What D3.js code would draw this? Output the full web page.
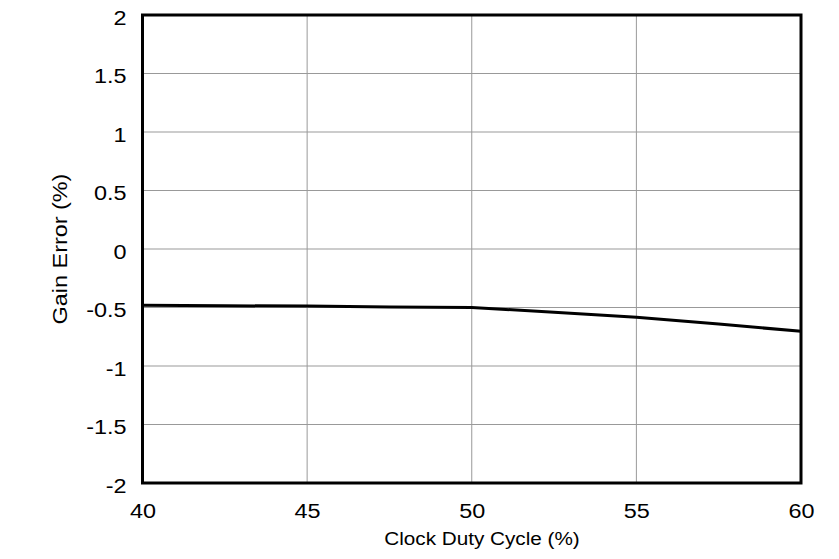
<!DOCTYPE html>
<html><head><meta charset="utf-8">
<script src="https://cdn.jsdelivr.net/npm/d3@7"></script>
<style>body{margin:0;background:#fff;} text{font-family:"Liberation Sans",Arial,sans-serif;}</style>
</head><body>
<svg id="c" width="839" height="559"></svg>
<script>
const dutyCycle = [40, 42.5, 45, 47.5, 50, 52.5, 55, 57.5, 60];
const gainError = [-0.48, -0.485, -0.488, -0.495, -0.50, -0.541, -0.584, -0.641, -0.704];
const xTicks = [40, 45, 50, 55, 60];
const yTicks = [-2, -1.5, -1, -0.5, 0, 0.5, 1, 1.5, 2];
const xTitle = "Clock Duty Cycle (%)";
const yTitle = "Gain Error (%)";

const svg = d3.select("#c");
const L = 142.5, R = 801, T = 15, B = 483;
const x = d3.scaleLinear().domain([40, 60]).range([L, R]);
const y = d3.scaleLinear().domain([-2, 2]).range([B, T]);
const FF = '"Liberation Sans",Arial,sans-serif';

function stretch(sel, f) {
  sel.each(function () {
    const len = this.getComputedTextLength();
    d3.select(this).attr("textLength", len * f).attr("lengthAdjust", "spacingAndGlyphs");
  });
}

// grid
svg.append("g").selectAll("line").data(xTicks.slice(1, -1)).join("line")
  .attr("x1", d => x(d)).attr("x2", d => x(d)).attr("y1", T).attr("y2", B)
  .attr("stroke", "#999").attr("stroke-width", 1);
svg.append("g").selectAll("line").data(yTicks.slice(1, -1)).join("line")
  .attr("x1", L).attr("x2", R).attr("y1", d => y(d)).attr("y2", d => y(d))
  .attr("stroke", "#999").attr("stroke-width", 1);

// line
const line = d3.line().x((d, i) => x(dutyCycle[i])).y(d => y(d));
svg.append("path").datum(gainError).attr("d", line)
  .attr("fill", "none").attr("stroke", "#000").attr("stroke-width", 3);

// frame
svg.append("rect").attr("x", L).attr("y", T).attr("width", R - L).attr("height", B - T)
  .attr("fill", "none").attr("stroke", "#000").attr("stroke-width", 3);

// x tick labels
const xAxis = d3.axisBottom(x).tickValues(xTicks).tickSize(0).tickPadding(0).tickFormat(d3.format("d"));
const gx = svg.append("g").attr("transform", `translate(0,${B})`).call(xAxis);
gx.select(".domain").remove();
gx.selectAll("text").attr("font-size", 20).attr("fill", "#000").attr("y", 35).attr("dy", null)
  .style("font-family", FF).call(stretch, 1.17);

// y tick labels
const yAxis = d3.axisLeft(y).tickValues(yTicks).tickSize(0).tickPadding(16).tickFormat(d => String(d));
const gy = svg.append("g").attr("transform", `translate(${L},0)`).call(yAxis);
gy.select(".domain").remove();
gy.selectAll("text").attr("font-size", 20).attr("fill", "#000").attr("dy", 9).attr("y", 0)
  .style("font-family", FF).call(stretch, 1.17);

// titles
svg.append("text").attr("x", 482).attr("y", 545).attr("text-anchor", "middle")
  .attr("font-size", 18).text(xTitle).call(stretch, 1.15);
svg.append("text").attr("transform", `translate(67,${(T + B) / 2}) rotate(-90)`)
  .attr("text-anchor", "middle").attr("font-size", 20).text(yTitle).call(stretch, 1.17);
</script>
</body></html>
